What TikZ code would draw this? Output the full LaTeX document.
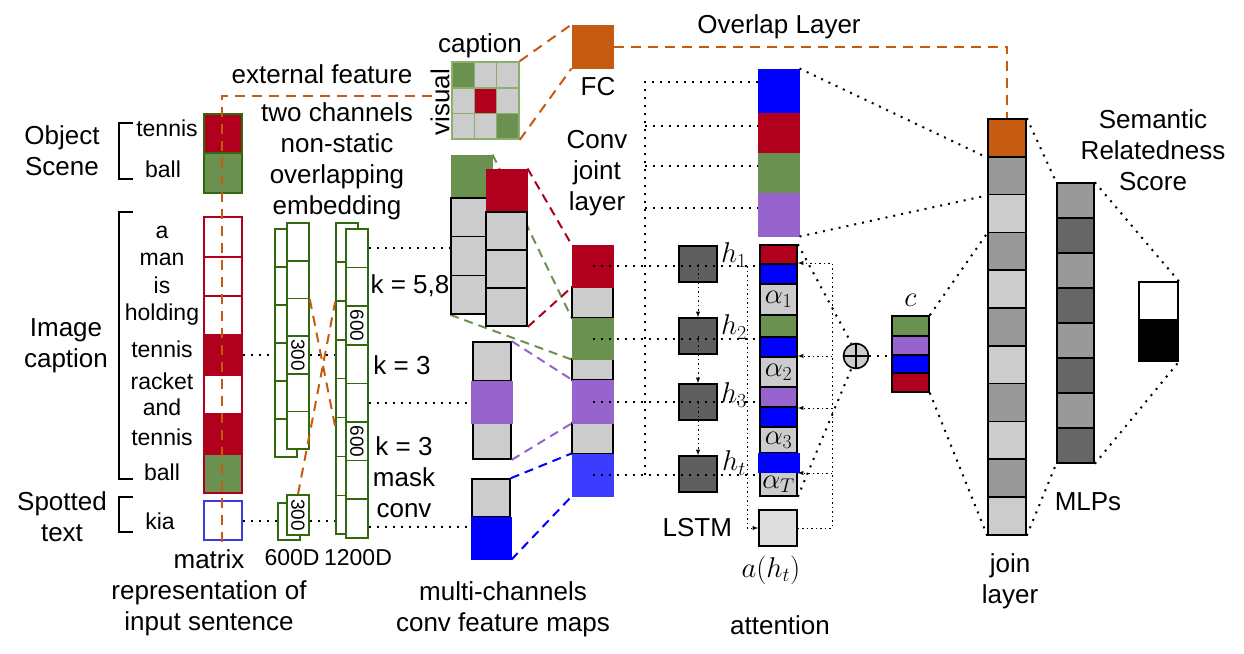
\documentclass[tikz,border=0pt]{standalone}
\usepackage{fontspec}
\setmainfont{Liberation Sans}
\usetikzlibrary{shapes,arrows,fit,positioning,calc}
\definecolor{cred}{RGB}{176,0,30}
\definecolor{cgreen}{RGB}{106,145,80}
\definecolor{cpurple}{RGB}{150,100,204}
\definecolor{cblue}{RGB}{0,0,255}
\definecolor{lblue}{RGB}{60,60,255}
\definecolor{corange}{RGB}{197,90,17}
\definecolor{lgray}{RGB}{204,204,204}
\definecolor{ahgray}{RGB}{221,221,221}
\definecolor{mgray}{RGB}{153,153,153}
\definecolor{dgray}{RGB}{102,102,102}
\definecolor{lstmgray}{RGB}{95,95,95}
\definecolor{egreen}{RGB}{50,105,15}
\definecolor{gline}{RGB}{140,175,110}
\definecolor{mblue}{RGB}{60,60,220}
\def\BigFont{\fontsize{26}{31}\selectfont}
\def\WordFont{\fontsize{23}{27}\selectfont}
\def\MidFont{\fontsize{24}{26}\selectfont}
\def\SmallFont{\fontsize{19}{21}\selectfont}
\def\Mth#1{\scalebox{1.15}{$#1$}}
\pgfdeclarelayer{back}
\pgfsetlayers{back,main}

\begin{document}
\begin{tikzpicture}[x=1pt,y=-1pt,% one unit is one pixel, y runs downwards
        every node/.style={
            align=center,       % so that "\\" breaks lines
            inner sep=0pt,
            font=\BigFont
        },
        cell/.style={rectangle,draw=black,line width=1.6pt,fill=#1},
        cell/.default=lgray,
        blk/.style={rectangle,draw=#1,fill=#1,line width=1pt},
        emb/.style={rectangle,draw=egreen,line width=1.6pt,fill=white,minimum width=22pt},
        dotline/.style={line width=2pt,dash pattern=on 2pt off 6pt},
        tdot/.style={line width=0.9pt,dash pattern=on 1.5pt off 3pt,>=latex},
        ext/.style={draw=corange,line width=2pt,dash pattern=on 10pt off 7pt},
        feat/.style={draw=#1,line width=2pt,dash pattern=on 9pt off 6pt}
    ]
    \useasboundingbox (0,0) rectangle (1244,653);

    % input sentence
    \node (OS) at (62,151) {Object\\Scene};
    \node (IC) at (66,346) {Image\\caption};
    \node (ST) at (62,517) {Spotted\\text};
    \draw[line width=1.6pt] (133,123) -- (119,123) -- (119,179) -- (133,179);
    \draw[line width=1.6pt] (133,212) -- (119,212) -- (119,479) -- (133,479);
    \draw[line width=1.6pt] (133,497) -- (119,497) -- (119,532) -- (133,532);
    \node[font=\WordFont] (WO1) at (167,128) {tennis};
    \node[font=\WordFont] (WO2) at (163,169) {ball};
    \foreach \w/\y [count=\i] in {a/232,man/259,is/285,holding/315,tennis/349,racket/381,and/407,tennis/437,ball/472}
        \node[font=\WordFont] (W\i) at (162,\y) {\w};
    \node[font=\WordFont] (WK) at (160,521) {kia};

    \node[rectangle,draw=egreen,line width=1.6pt,fill=cred,minimum width=38pt,minimum height=39pt] (O1) at (223,133.5) {};
    \node[rectangle,draw=egreen,line width=1.6pt,fill=cgreen,minimum width=38pt,minimum height=40pt] (O2) at (223,173) {};
    \foreach \ya/\yb/\col [count=\i] in {217/257/white,257/296/white,296/335/white,335/375/cred,375/414/white,414/454/cred,454/493/cgreen}
        \node[rectangle,draw=cred,line width=1.6pt,fill=\col,minimum width=38pt,minimum height={(\yb-\ya)*1pt}] (M\i) at (223,{(\ya+\yb)/2}) {};
    \node[rectangle,draw=mblue,line width=1.6pt,minimum width=38pt,minimum height=39pt] (K1) at (223,520.5) {};
    \node (MT) at (209,593) {matrix\\representation of\\input sentence};

    % embedding channels
    \foreach \i in {0,...,5} \node[emb,minimum height=38pt] (EA\i) at (286,{248+38*\i}) {};
    \foreach \i in {0,...,5} \node[emb,minimum height=37.7pt] (EF\i) at (298,{241.85+37.7*\i}) {};
    \foreach \i in {0,...,7} \node[emb,minimum height=38.9pt] (EB\i) at (347,{242.45+38.9*\i}) {};
    \foreach \i in {0,...,7} \node[emb,minimum height=38.6pt] (EC\i) at (357,{248.3+38.6*\i}) {};
    \node[emb,minimum height=37pt] (ES0) at (289,521.5) {};
    \node[emb,minimum height=40pt] (ES1) at (298,515) {};
    \node[rotate=-90,font=\SmallFont] (N1) at (EF3) {300};
    \node[rotate=-90,font=\SmallFont] (N2) at (ES1) {300};
    \node[rotate=-90,font=\SmallFont] (N3) at (EC2) {600};
    \node[rotate=-90,font=\SmallFont] (N4) at (EC5) {600};
    \node (TC) at (337,161) {two channels\\non-static\\overlapping\\embedding};
    \node[font=\WordFont] (D6) at (292,558) {600D};
    \node[font=\WordFont] (D12) at (358,558) {1200D};
    \node (EX) at (322,74) {external feature};

    % multi-channel feature maps
    \node[blk=cgreen,minimum width=41pt,minimum height=43pt] (F10) at (471.5,176.5) {};
    \foreach \i in {1,2,3} \node[cell,minimum width=41pt,minimum height=38.67pt] (F1\i) at (471.5,{178.67+38.67*\i}) {};
    \node[blk=cred,minimum width=41pt,minimum height=43pt] (F20) at (506.5,190.5) {};
    \foreach \i in {1,2,3} \node[cell,minimum width=41pt,minimum height=38pt] (F2\i) at (506.5,{193+38*\i}) {};
    \node[cell,minimum width=38pt,minimum height=39pt] (F30) at (492,361.5) {};
    \node[cell,minimum width=38pt,minimum height=36pt] (F32) at (492,441) {};
    \node[blk=cpurple,minimum width=41pt,minimum height=42pt] (F31) at (492,402) {};
    \node[cell,minimum width=38pt,minimum height=38pt] (F40) at (491,498) {};
    \node[blk=cblue,minimum width=40pt,minimum height=42pt] (F41) at (491,538) {};
    \node (K58) at (410,286) {k = 5,8};
    \node (K3) at (402,365) {k = 3};
    \node (KM) at (404,477) {k = 3\\mask\\conv};
    \node (MC) at (503,609) {multi-channels\\conv feature maps};

    % visual caption grid and FC
    \foreach \cc/\rr/\col in {1/1/cgreen,2/1/lgray,3/1/lgray,1/2/lgray,2/2/cred,3/2/lgray,1/3/lgray,2/3/lgray,3/3/cgreen}
        \node[rectangle,draw=gline,line width=1.6pt,fill=\col,minimum width=22.3pt,minimum height=25.7pt] (G\rr\cc) at ({452+22.3*(\cc-0.5)},{62+25.7*(\rr-0.5)}) {};
    \node (CA) at (480,46) {caption};
    \node[rotate=90] (VL) at (440,102) {visual};
    \node[blk=corange,minimum width=41pt,minimum height=43pt] (FC) at (592.5,46.5) {};
    \node (FCL) at (598,87) {FC};
    \node (OL) at (779,27) {Overlap Layer};

    % conv joint layer
    \foreach \n/\ya/\yb in {2/287/318,4/359/380,6/423/454}
        \node[cell,minimum width=41pt,minimum height={(\yb-\ya)*1pt}] (J\n) at (592.5,{(\ya+\yb)/2}) {};
    \node[blk=cred,minimum width=41pt,minimum height=42pt] (J1) at (592.5,266) {};
    \node[blk=cgreen,minimum width=41pt,minimum height=41pt] (J3) at (592.5,338.5) {};
    \node[blk=cpurple,minimum width=41pt,minimum height=43pt] (J5) at (592.5,401.5) {};
    \node[blk=lblue,minimum width=41pt,minimum height=42pt] (J7) at (592.5,475) {};
    \node (CJ) at (597,173) {Conv\\joint\\layer};

    % upper attention blocks
    \node[blk=cblue,minimum width=41pt,minimum height=44pt] (U1) at (778.5,91) {};
    \node[blk=cred,minimum width=41pt,minimum height=40pt] (U2) at (778.5,133) {};
    \node[blk=cgreen,minimum width=41pt,minimum height=40pt] (U3) at (778.5,173) {};
    \node[blk=cpurple,minimum width=41pt,minimum height=43pt] (U4) at (778.5,214.5) {};

    % LSTM and attention
    \foreach \y [count=\i] in {264,336,402,474}
        \node[cell=lstmgray,minimum width=38pt,minimum height=36pt] (L\i) at (698,\y) {};
    \foreach \s/\y [count=\i] in {1/255,2/327,3/395,t/463}
        \node (H\i) at (734,\y) {\Mth{h_\s}};
    \foreach \ya/\yb/\col/\txt [count=\i] in {245/264/cred/{},264/284/cblue/{},284/315/lgray/{\Mth{\alpha_1}},315/337/cgreen/{},337/357/cblue/{},357/387/lgray/{\Mth{\alpha_2}},387/407/cpurple/{},407/427/cblue/{},427/453/lgray/{\Mth{\alpha_3}},453/472/cblue/{},472/496/lgray/{\Mth{\alpha_T}}}
        \node[cell=\col,minimum width=37pt,minimum height={(\yb-\ya)*1pt},font=\MidFont] (A\i) at (778.5,{(\ya+\yb)/2}) {\txt};
    \node[blk=cblue,minimum width=41pt,minimum height=19pt] (AB) at (778.5,462.5) {};
    \node[cell=ahgray,minimum width=38pt,minimum height=36pt] (AH) at (778,528) {};
    \node (AHL) at (771,570) {\Mth{a(h_t)}};
    \node[left=26pt of AH] (LS) {LSTM};
    \node (AT) at (780,625) {attention};
    \node[circle,draw=black,line width=1.6pt,fill=lgray,minimum size=25pt] (OP) at (856,356) {};
    \draw[line width=1.6pt] (OP.north) -- (OP.south) (OP.west) -- (OP.east);
    \foreach \col/\ya/\yb [count=\i] in {cgreen/316/336,cpurple/336/355,cblue/355/373,cred/373/392}
        \node[cell=\col,minimum width=37pt,minimum height={(\yb-\ya)*1pt}] (C\i) at (910.5,{(\ya+\yb)/2}) {};
    \node[above=9pt of C1] (CL) {\Mth{c}};

    % join layer, MLPs and score
    \foreach \col [count=\i] in {corange,mgray,lgray,mgray,lgray,mgray,lgray,mgray,lgray,mgray,lgray}
        \node[cell=\col,minimum width=38pt,minimum height=37.8pt] (JN\i) at (1007,{100.1+37.8*\i}) {};
    \foreach \col [count=\i] in {mgray,dgray,mgray,dgray,mgray,dgray,mgray,dgray}
        \node[cell=\col,minimum width=37pt,minimum height=35pt] (ML\i) at (1075.5,{165.5+35*\i}) {};
    \node[cell=white,minimum width=39pt,minimum height=38pt] (SC1) at (1158.5,301) {};
    \node[cell=black,minimum width=39pt,minimum height=41pt] (SC2) at (1158.5,340.5) {};
    \node (JL) at (1010,581) {join\\layer};
    \node (MLP) at (1088,502) {MLPs};
    \node (SR) at (1153,150) {Semantic\\Relatedness\\Score};

    % external feature path
    \coordinate (X0) at (222,542);
    \coordinate (X1) at (432,96);
    \draw[ext] (X0) |- (X1);
    \draw[ext] (G13.north east) -- (FC.north west);
    \draw[ext] (G33.south east) -- (FC.south west);
    \draw[ext] (FC.east) -| (JN1.north);
    \draw[ext] (EF1.south east) -- ($(EB5.north west)!.25!(EB5.south west)$);
    \draw[ext] (ES1.north) -- (EB1.south west);

    % into the embedding
    \draw[dotline] (M4.east) -- (M4.east -| EA0.west);
    \draw[dotline] (M4.east -| EF0.east) -- (M4.east -| EB0.west);
    \draw[dotline] (K1.east) -- (K1.east -| ES0.west);
    \draw[dotline] (K1.east -| ES1.east) -- (K1.east -| EB0.west);
    \draw[dotline] (EC0.east) -- (EC0.east -| F12.west);
    \draw[dotline] (EC4.east) -- (EC4.east -| F31.west);
    \draw[dotline] (EC7.east |- 0,527) -- (F41.west |- 0,527);

    % feature maps to joint layer
    \begin{pgfonlayer}{back}
        \draw[feat=cgreen] (F10.north east) -- (J3.north west);
        \draw[feat=cgreen] (F13.south west) -- (J3.south west);
    \end{pgfonlayer}
    \draw[feat=cred] (F20.north east) -- (J1.north west);
    \draw[feat=cred] (F23.south east) -- (J1.south west);
    \draw[feat=cpurple] (F30.north east) -- (J5.north west);
    \draw[feat=cpurple] (F32.south east) -- (J5.south west);
    \draw[feat=cblue] (F40.north east) -- (J7.north west);
    \draw[feat=cblue] (F41.south east) -- (J7.south west);

    % joint layer to LSTM and attention
    \foreach \j in {J1,J3,J5,J7}
        \draw[dotline] (\j.center) -- (\j.center -| A1.west);
    \draw[dotline] (J7.center -| 645,0) -- (645,82) -- (U1.west |- 645,82);
    \foreach \y/\u in {126/U2,166/U3,208/U4}
        \draw[dotline] (645,\y) -- (\u.west |- 645,\y);
    \foreach \p/\q in {L1/L2,L2/L3,L3/L4}
        \draw[tdot,->] (\p.center) -- (\q.north);
    \draw[tdot,->] (J1.center -| 747,0) |- (AH.west);
    \coordinate (R0) at (832,263);
    \draw[tdot,->] (AH.east) -| (R0) -- (R0 -| A1.east);
    \foreach \y in {356,408,473}
        \draw[tdot,->] (832,\y) -- (A1.east |- 832,\y);
    \draw[dotline] (A1.north east) -- (OP.110);
    \draw[dotline] (A11.south east) -- (OP.250);
    \draw[dotline] (OP.east) -- (OP.east -| C1.west);

    % into the join layer and out
    \draw[dotline] (U1.north east) -- (JN1.south west);
    \draw[dotline] (U4.south east) -- (JN2.south west);
    \draw[dotline] (C1.north east) -- (JN3.south west);
    \draw[dotline] (C4.south east) -- (JN11.south west);
    \draw[dotline] (JN1.north east) -- (ML1.north west);
    \draw[dotline] (JN11.south east) -- (ML8.south west);
    \draw[dotline] (ML1.north east) -- (SC1.north east);
    \draw[dotline] (ML8.south east) -- (SC2.south east);
\end{tikzpicture}
\end{document}
